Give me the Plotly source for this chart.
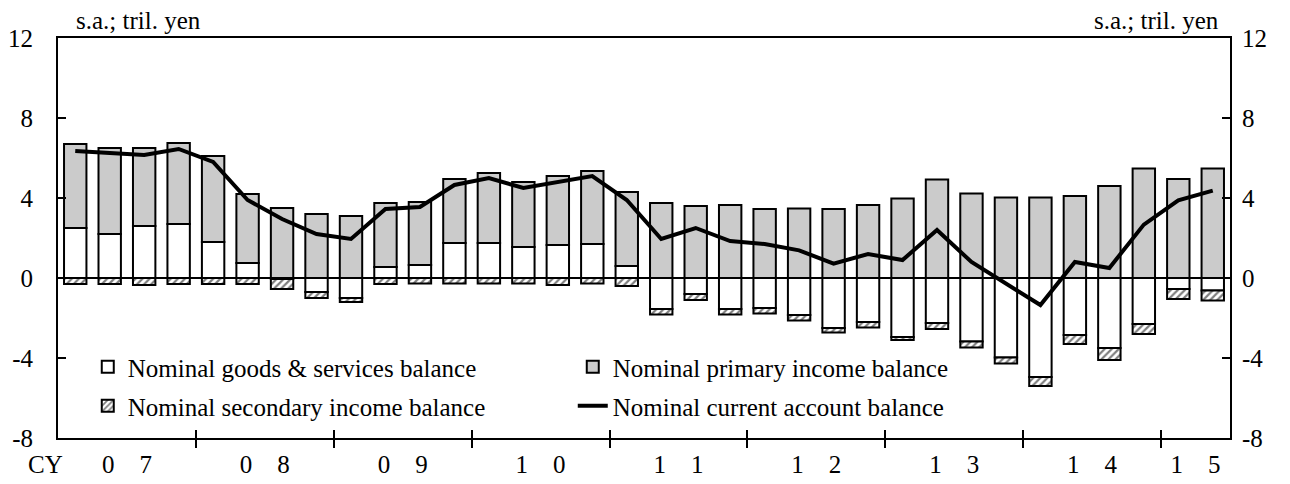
import plotly.graph_objects as go

# ---------------- data (trillion yen, s.a.) ----------------
quarters = ["2007Q1", "2007Q2", "2007Q3", "2007Q4",
            "2008Q1", "2008Q2", "2008Q3", "2008Q4",
            "2009Q1", "2009Q2", "2009Q3", "2009Q4",
            "2010Q1", "2010Q2", "2010Q3", "2010Q4",
            "2011Q1", "2011Q2", "2011Q3", "2011Q4",
            "2012Q1", "2012Q2", "2012Q3", "2012Q4",
            "2013Q1", "2013Q2", "2013Q3", "2013Q4",
            "2014Q1", "2014Q2", "2014Q3", "2014Q4",
            "2015Q1", "2015Q2"]

goods_services = [2.5, 2.2, 2.6, 2.7, 1.8, 0.75, -0.05, -0.7,
                  -1.0, 0.55, 0.65, 1.75, 1.75, 1.55, 1.65, 1.7,
                  0.6, -1.55, -0.8, -1.55, -1.5, -1.85, -2.5, -2.2,
                  -2.95, -2.25, -3.18, -3.97, -4.95, -2.85, -3.5, -2.3,
                  -0.55, -0.63]

primary_income = [4.2, 4.3, 3.9, 4.05, 4.3, 3.45, 3.5, 3.2,
                  3.1, 3.2, 3.15, 3.2, 3.5, 3.25, 3.45, 3.65,
                  3.7, 3.75, 3.6, 3.65, 3.45, 3.48, 3.45, 3.65,
                  3.98, 4.93, 4.23, 4.03, 4.03, 4.1, 4.6, 5.48,
                  4.95, 5.48]

secondary_income = [-0.3, -0.3, -0.35, -0.3, -0.3, -0.3, -0.5, -0.3,
                    -0.2, -0.3, -0.27, -0.27, -0.27, -0.27, -0.35, -0.27,
                    -0.4, -0.27, -0.3, -0.27, -0.27, -0.27, -0.22, -0.27,
                    -0.15, -0.3, -0.3, -0.3, -0.45, -0.45, -0.6, -0.5,
                    -0.5, -0.5]

current_account = [6.35, 6.25, 6.15, 6.45, 5.8, 3.9, 2.95, 2.2,
                   1.95, 3.45, 3.55, 4.65, 5.0, 4.5, 4.8, 5.1,
                   3.9, 1.95, 2.5, 1.85, 1.7, 1.38, 0.72, 1.2,
                   0.9, 2.4, 0.8, -0.25, -1.35, 0.8, 0.5, 2.67,
                   3.88, 4.37]

years = ["07", "08", "09", "10", "11", "12", "13", "14", "15"]
y_ticks = [-8, -4, 0, 4, 8, 12]

# ---------------- derived positions ----------------
x = list(range(len(quarters)))
year_first_idx = [quarters.index("20" + yy + "Q1") for yy in years]
year_centers = []
for k, start in enumerate(year_first_idx):
    end = year_first_idx[k + 1] if k + 1 < len(year_first_idx) else len(quarters)
    year_centers.append((start + end - 1) / 2)
year_bounds = [s - 0.5 for s in year_first_idx[1:]]
year_text = ["\u00a0\u00a0\u00a0\u00a0".join(list(yy)) for yy in years]
y_text = [str(v) for v in y_ticks]
xr = [-0.5, len(quarters) - 0.5]
yr = [y_ticks[0], y_ticks[-1]]

FONT = "Liberation Serif, Times New Roman, serif"
FS = 25

fig = go.Figure()
fig.add_trace(go.Bar(
    x=x, y=goods_services, name="Nominal goods & services balance",
    marker=dict(color="white", line=dict(color="black", width=2)),
    legend="legend"))
fig.add_trace(go.Bar(
    x=x, y=primary_income, name="Nominal primary income balance",
    marker=dict(color="#cbcbcb", line=dict(color="black", width=2)),
    legend="legend"))
fig.add_trace(go.Bar(
    x=x, y=secondary_income, name="Nominal secondary income balance",
    marker=dict(color="white", line=dict(color="black", width=2),
                pattern=dict(shape="/", fgcolor="black", bgcolor="white",
                             size=5, solidity=0.45)),
    legend="legend2"))
fig.add_trace(go.Scatter(
    x=x, y=current_account, name="Nominal current account balance",
    mode="lines", line=dict(color="black", width=4),
    xaxis="x2", yaxis="y2", legend="legend2"))

fig.update_layout(
    width=1282, height=476,
    paper_bgcolor="white", plot_bgcolor="white",
    margin=dict(l=50, r=60, t=30, b=46, autoexpand=False),
    barmode="relative", bargap=0.35,
    font=dict(family=FONT, size=FS, color="black"),
    xaxis=dict(range=xr, tickmode="array", tickvals=year_centers, ticktext=year_text,
               ticks="", showgrid=False, zeroline=False, automargin=False,
               showline=True, linecolor="black", linewidth=2, mirror=True,
               ticklabelstandoff=3,
               minor=dict(tickmode="array", tickvals=year_bounds, ticks="outside",
                          ticklen=8, tickwidth=2, tickcolor="black", showgrid=False)),
    xaxis2=dict(range=xr, overlaying="x", anchor="y", side="bottom", automargin=False,
                tickmode="array", tickvals=year_bounds, ticks="inside",
                ticklen=8, tickwidth=2, tickcolor="black",
                showticklabels=False, showgrid=False, zeroline=False, showline=False),
    yaxis=dict(range=yr, tickmode="array", tickvals=y_ticks, ticktext=y_text,
               ticks="inside",
               ticklen=8, tickwidth=2, tickcolor="black", showgrid=False,
               zeroline=True, zerolinecolor="black", zerolinewidth=1.5,
               showline=True, linecolor="black", linewidth=2, automargin=False,
               ticklabelstandoff=18),
    yaxis2=dict(range=yr, overlaying="y", anchor="x2", side="right", automargin=False,
                tickmode="array", tickvals=y_ticks, ticktext=y_text, ticks="inside",
                ticklen=8, tickwidth=2, tickcolor="black", showgrid=False,
                zeroline=False, showline=True, linecolor="black", linewidth=2,
                ticklabelstandoff=5),
    legend=dict(orientation="h", x=0.0254, y=0.1775, xanchor="left", yanchor="middle",
                entrywidth=440, entrywidthmode="pixels", bgcolor="rgba(0,0,0,0)",
                font=dict(family=FONT, size=FS), traceorder="normal"),
    legend2=dict(orientation="h", x=0.0254, y=0.08, xanchor="left", yanchor="middle",
                 entrywidth=440, entrywidthmode="pixels", bgcolor="rgba(0,0,0,0)",
                 font=dict(family=FONT, size=FS), traceorder="normal"),
    annotations=[
        dict(text="s.a.; tril. yen", xref="paper", yref="paper", x=0.0135, y=1.005,
             xanchor="left", yanchor="bottom", showarrow=False,
             font=dict(family=FONT, size=25)),
        dict(text="s.a.; tril. yen", xref="paper", yref="paper", x=0.9925, y=1.005,
             xanchor="right", yanchor="bottom", showarrow=False,
             font=dict(family=FONT, size=25)),
        dict(text="CY", xref="paper", yref="paper", x=-0.0105, y=-0.065,
             xanchor="center", yanchor="middle", showarrow=False,
             font=dict(family=FONT, size=FS)),
    ],
)

fig.write_html("out.html")
